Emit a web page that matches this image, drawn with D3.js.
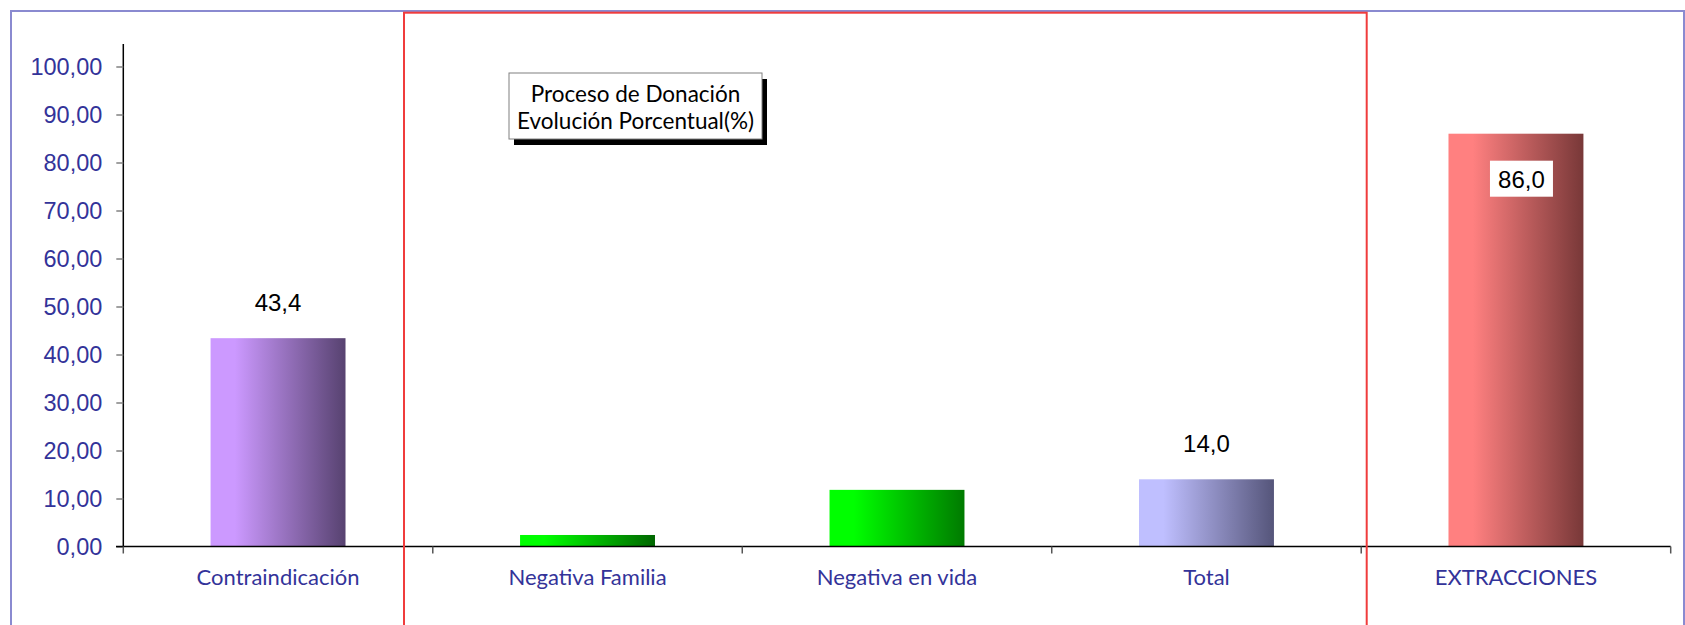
<!DOCTYPE html>
<html>
<head>
<meta charset="utf-8">
<script src="https://cdn.jsdelivr.net/npm/d3@7"></script>
<style>
  body { margin: 0; background: #fff; }
  svg { display: block; }
</style>
</head>
<body>
<div id="chart"></div>
<script>
// datos
const categories = ["Contraindicación", "Negativa Familia", "Negativa en vida", "Total", "EXTRACCIONES"];
const values = [43.4, 2.4, 11.8, 14.0, 86.0];
const showLabel = [true, false, false, true, true];
const yTicks = [0, 10, 20, 30, 40, 50, 60, 70, 80, 90, 100];
const titleLines = ["Proceso de Donación", "Evolución Porcentual(%)"];
const lightColors = ["#cc99ff", "#00ff00", "#00ff00", "#bfbfff", "#ff8080"];
const darkColors = ["#574270", "#006600", "#007a00", "#55557a", "#783838"];

const W = 1685, H = 625;
const locale = d3.formatLocale({ decimal: ",", thousands: ".", grouping: [3], currency: ["", "€"] });
const fmtTick = locale.format(".2f");
const fmtLabel = locale.format(".1f");

const svg = d3.select("#chart").append("svg")
  .attr("width", W)
  .attr("height", H);

const defs = svg.append("defs");
categories.forEach((c, i) => {
  const g = defs.append("linearGradient")
    .attr("id", "grad" + i)
    .attr("x1", "0%").attr("x2", "100%")
    .attr("y1", "0%").attr("y2", "0%");
  g.append("stop").attr("offset", "0%").attr("stop-color", lightColors[i]);
  g.append("stop").attr("offset", "18%").attr("stop-color", lightColors[i]);
  g.append("stop").attr("offset", "100%").attr("stop-color", darkColors[i]);
});

// marco exterior
svg.append("rect")
  .attr("x", 11).attr("y", 11)
  .attr("width", 1673).attr("height", 700)
  .attr("fill", "none")
  .attr("stroke", "#8a8ad0")
  .attr("stroke-width", 2);

// escalas
const x = d3.scaleBand()
  .domain(categories)
  .range([123.3, 1670.7])
  .paddingInner(0.564)
  .paddingOuter(0.282);

const y = d3.scaleLinear()
  .domain([0, 100])
  .range([546.5, 66.5]);

// barras
svg.selectAll(".bar")
  .data(categories)
  .enter()
  .append("rect")
  .attr("class", "bar")
  .attr("x", d => x(d))
  .attr("y", (d, i) => y(values[i]))
  .attr("width", x.bandwidth())
  .attr("height", (d, i) => y(0) - y(values[i]))
  .attr("fill", (d, i) => `url(#grad${i})`);

// eje Y
const yAxis = svg.append("g")
  .attr("transform", "translate(123.3,0)")
  .call(d3.axisLeft(y).tickValues(yTicks).tickFormat(fmtTick).tickSize(7).tickPadding(14));
yAxis.select(".domain").attr("stroke", "#000").attr("stroke-width", 1.5)
  .attr("d", `M0,44V${y(0)}`);
yAxis.selectAll(".tick line").attr("stroke", "#808080").attr("stroke-width", 1.5);
yAxis.selectAll(".tick text")
  .attr("fill", "#333399")
  .style("font-family", "Liberation Sans, Arial, sans-serif")
  .style("font-size", "23.5px");

// eje X
svg.append("line")
  .attr("x1", 116).attr("x2", x.range()[1])
  .attr("y1", y(0)).attr("y2", y(0))
  .attr("stroke", "#000").attr("stroke-width", 1.5);

const bounds = categories.map(c => x(c) - x.step() * x.paddingInner() / 2);
bounds.push(x.range()[1]);
bounds[0] = x.range()[0];
svg.selectAll(".xtick")
  .data(bounds)
  .enter()
  .append("line")
  .attr("x1", d => d).attr("x2", d => d)
  .attr("y1", y(0)).attr("y2", y(0) + 7)
  .attr("stroke", "#555").attr("stroke-width", 1.5);

svg.selectAll(".xlabel")
  .data(categories)
  .enter()
  .append("text")
  .attr("x", d => x(d) + x.bandwidth() / 2)
  .attr("y", 585)
  .attr("text-anchor", "middle")
  .attr("fill", "#333399")
  .style("font-family", "Lato, sans-serif")
  .style("font-size", "22px")
  .text(d => d);

// etiquetas de valor
categories.forEach((c, i) => {
  if (!showLabel[i]) return;
  const cx = x(c) + x.bandwidth() / 2;
  if (values[i] > 80) {
    // dentro de la barra con fondo blanco
    const base = y(values[i]) + 54;
    svg.append("rect")
      .attr("x", cx - 26).attr("y", base - 27)
      .attr("width", 63).attr("height", 36)
      .attr("fill", "#fff");
    svg.append("text")
      .attr("x", cx + 5.5).attr("y", base)
      .attr("text-anchor", "middle")
      .style("font-family", "Liberation Sans, Arial, sans-serif")
      .style("font-size", "24px")
      .attr("fill", "#000")
      .text(fmtLabel(values[i]));
  } else {
    svg.append("text")
      .attr("x", cx)
      .attr("y", y(values[i]) - 27)
      .attr("text-anchor", "middle")
      .style("font-family", "Liberation Sans, Arial, sans-serif")
      .style("font-size", "24px")
      .attr("fill", "#000")
      .text(fmtLabel(values[i]));
  }
});

// recuadro rojo
svg.append("rect")
  .attr("x", 404).attr("y", 12.7)
  .attr("width", 962.7).attr("height", 700)
  .attr("fill", "none")
  .attr("stroke", "#f03c3c")
  .attr("stroke-width", 2);

// titulo con sombra
const tb = svg.append("g").attr("transform", "translate(509,73)");
tb.append("rect")
  .attr("x", 5).attr("y", 6)
  .attr("width", 253).attr("height", 66)
  .attr("fill", "#000");
tb.append("rect")
  .attr("width", 253).attr("height", 66)
  .attr("fill", "#fff")
  .attr("stroke", "#808080")
  .attr("stroke-width", 1);
tb.selectAll("text")
  .data(titleLines)
  .enter()
  .append("text")
  .attr("x", 126.5)
  .attr("y", (d, i) => 29 + i * 26.5)
  .attr("text-anchor", "middle")
  .style("font-family", "Lato, sans-serif")
  .style("font-size", "22.5px")
  .attr("fill", "#000")
  .text(d => d);
</script>
</body>
</html>
